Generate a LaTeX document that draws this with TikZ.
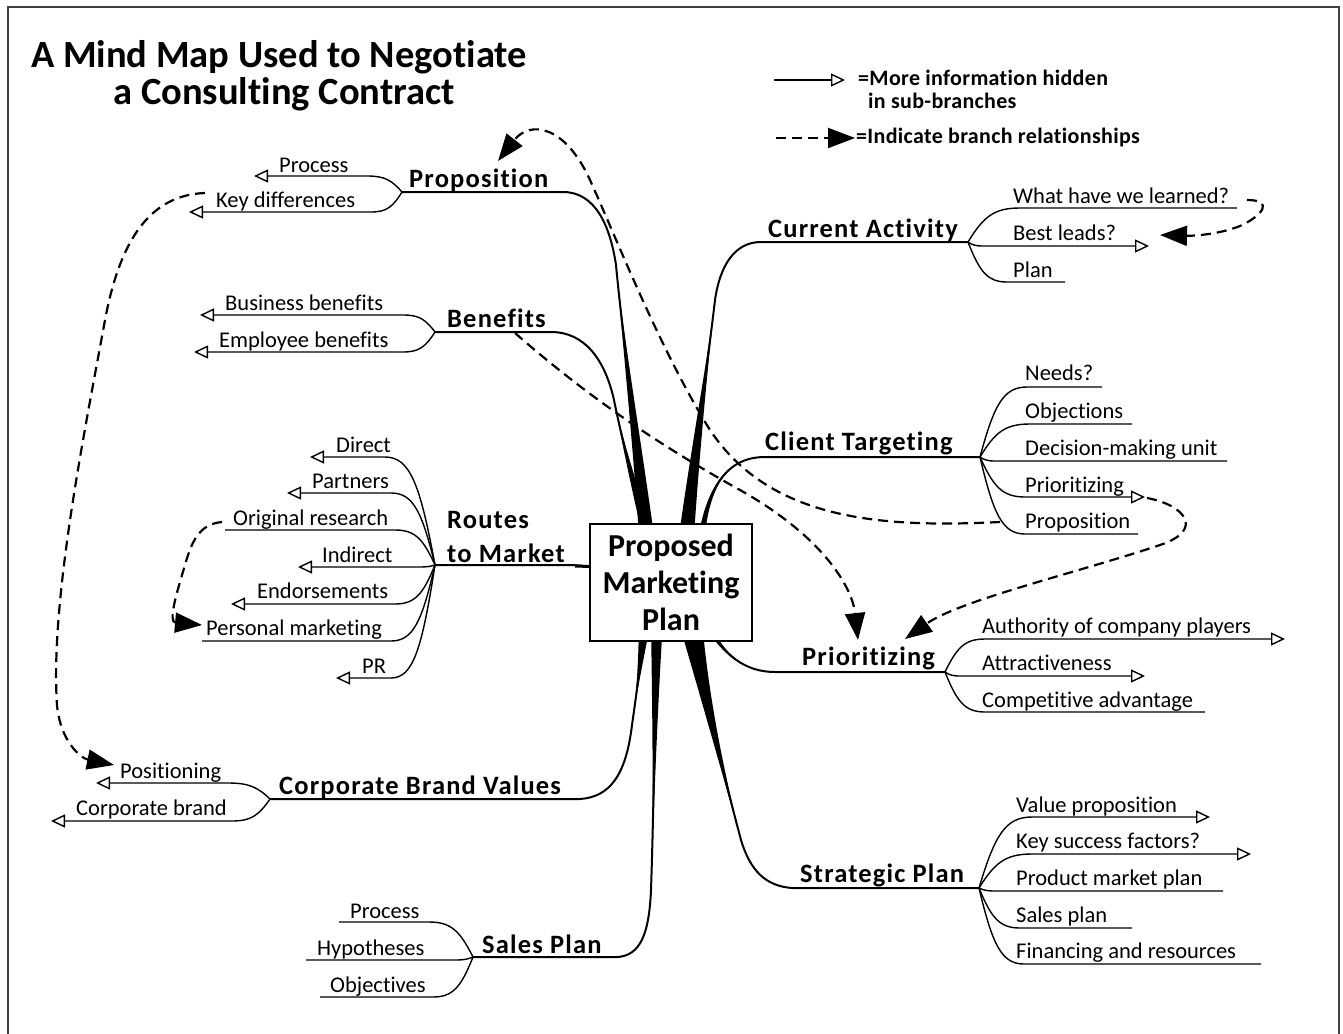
\documentclass[tikz,border=0pt]{standalone}
\usepackage{fontspec}
\setmainfont{Carlito}[Ligatures=NoCommon]
\newfontfamily\labfont{Carlito}[Ligatures=NoCommon,LetterSpace=4.5]
\newfontfamily\legfont{Carlito}[Ligatures=NoCommon,LetterSpace=1.5]
\usetikzlibrary{arrows.meta,calc}

% child branch: #1 id, #2 junction, #3 text, #4 text x, #5 baseline y, #6 underline y, #7 near x, #8 far x, #9 extra style
\newcommand\kid[9]{%
  \node[kid] (#1) at (#4,#5) {#3};
  \coordinate (#1n) at (#7,#6);
  \coordinate (#1f) at (#8,#6);
  \draw[kidline,#9] let \p1=(#2), \p2=(#1n) in
    (\p1) .. controls ({\x1+0.3*(\x2-\x1)},{\y1+0.75*(\y2-\y1)}) and ({\x2-0.5*(\x2-\x1)},{\y2}) .. (\p2) -- (#1f);
}
% tapered wedge: P0, C1, C2, P3, offsets at C1, C2, P3
\newcommand\taper[7]{%
  \fill (#1) .. controls ($(#2)+(-#5,0)$) and ($(#3)+(-#6,0)$) .. ($(#4)+(-#7,0)$)
    -- ($(#4)+(#7,0)$) .. controls ($(#3)+(#6,0)$) and ($(#2)+(#5,0)$) .. (#1) -- cycle;
}

\begin{document}
\begin{tikzpicture}[x=1pt,y=-1pt,
  kid/.style={font=\fontsize{22.5}{26}\selectfont, anchor=base west, inner sep=0pt},
  lab/.style={font=\labfont\fontsize{26.5}{30}\selectfont\bfseries, anchor=base west, inner sep=0pt},
  titlefont/.style={font=\fontsize{38.5}{44}\selectfont\bfseries, anchor=base, inner sep=0pt},
  legend/.style={font=\legfont\fontsize{22}{26}\selectfont\bfseries, anchor=base west, inner sep=0pt},
  kidline/.style={line width=1.4pt},
  mainline/.style={line width=2pt},
  hid/.style={-{Triangle[open,length=14pt,width=13pt]}},
  rel/.style={line width=2.2pt, dash pattern=on 10pt off 6pt, -{Triangle[length=27pt,width=20pt]}}
]
\useasboundingbox (0,0) rectangle (1343,1033);
\draw[line width=2pt, black!75] (7.5,1045) -- (7.5,7.5) -- (1339,7.5) -- (1339,1045);

% title
\node[titlefont] (t1) at (279,67) {A Mind Map Used to Negotiate};
\node[titlefont] (t2) at (284,104) {a Consulting Contract};

% legend
\coordinate (lgA) at (774,80); \coordinate (lgB) at (845,80);
\draw[kidline,hid] (lgA) -- (lgB);
\node[legend] (lgT1) at (858,85) {=More information hidden};
\node[legend] (lgT2) at (868,108) {in sub-branches};
\coordinate (lgC) at (776,138); \coordinate (lgD) at (855,138);
\draw[rel] (lgC) -- (lgD);
\node[legend] (lgT3) at (856,143) {=Indicate branch relationships};

% ---- main branches ----
% Proposition
\coordinate (jProp) at (402,192);
\node[lab] (lProp) at (409,187) {Proposition};
\draw[mainline] (jProp) -- (563,192) .. controls (595,192) and (610,225) .. (616,265) .. controls (622,330) and (638,450) .. (648,550);
\taper{616,265}{622,330}{638,450}{648,550}{0.5}{4.5}{8}
% Benefits
\coordinate (jBen) at (435,332);
\node[lab] (lBen) at (447,327) {Benefits};
\draw[mainline] (jBen) -- (551,332) .. controls (585,332) and (605,360) .. (614,400) .. controls (622,440) and (635,490) .. (652,550);
\taper{614,400}{622,440}{635,490}{652,550}{0.5}{3.5}{6}
% Current Activity
\coordinate (jCur) at (968,242);
\node[lab] (lCur) at (768,237) {Current Activity};
\draw[mainline] (jCur) -- (761,242) .. controls (735,242) and (720,265) .. (715,300) .. controls (708,360) and (695,450) .. (685,550);
\taper{715,300}{708,360}{695,450}{685,550}{0.5}{4.5}{8}
% Client Targeting
\coordinate (jCli) at (980,457);
\node[lab] (lCli) at (765,450) {Client Targeting};
\draw[mainline] (jCli) -- (765,457) .. controls (722,457) and (705,495) .. (700,550);
\taper{765,457}{722,457}{705,495}{700,550}{0}{2}{3.5}
% Routes to Market
\coordinate (jRou) at (435,565);
\node[lab] (lRou1) at (447,528) {Routes};
\node[lab] (lRou2) at (447,562) {to Market};
\draw[mainline] (jRou) -- (569,565) .. controls (580,565) and (585,567) .. (605,567);
\draw[line width=3pt] (575,566) -- (605,567);
% Prioritizing
\coordinate (jPri) at (945,672);
\node[lab] (lPri) at (802,665) {Prioritizing};
\draw[mainline] (jPri) -- (775,672) .. controls (745,672) and (722,655) .. (705,620);
\taper{775,672}{745,672}{722,655}{705,620}{0}{2}{3}
% Strategic Plan
\coordinate (jStr) at (979,888);
\node[lab] (lStr) at (800,882) {Strategic Plan};
\draw[mainline] (jStr) -- (792,888) .. controls (765,886) and (750,870) .. (741,840) .. controls (725,780) and (705,700) .. (690,620);
\taper{741,840}{725,780}{705,700}{690,620}{1}{3.5}{12}
% Sales Plan
\coordinate (jSal) at (473,957);
\node[lab] (lSal) at (482,953) {Sales Plan};
\draw[mainline] (jSal) -- (618,957) .. controls (640,955) and (649,935) .. (651,890) .. controls (654,800) and (655,700) .. (657,620);
\taper{651,890}{654,800}{655,700}{657,620}{0}{3}{6}
% Corporate Brand Values
\coordinate (jCor) at (270,799);
\node[lab] (lCor) at (279,794) {Corporate Brand Values};
\draw[mainline] (jCor) -- (580,799) .. controls (610,797) and (626,775) .. (632,725) .. controls (637,690) and (641,660) .. (645,620);
\taper{632,725}{637,690}{641,660}{645,620}{0}{2.5}{6}

% ---- children ----
\kid{kProc}{jProp}{Process}{279}{172}{176}{367}{254}{hid}
\kid{kKey}{jProp}{Key differences}{216}{207}{212}{371}{189}{hid}

\kid{kBus}{jBen}{Business benefits}{225}{310}{315}{403}{200}{hid}
\kid{kEmp}{jBen}{Employee benefits}{219}{347}{352}{403}{194}{hid}

\kid{kDir}{jRou}{Direct}{336}{452}{457}{385}{310}{hid}
\kid{kPar}{jRou}{Partners}{312}{488}{493}{391}{287}{hid}
\kid{kOri}{jRou}{Original research}{233}{525}{530}{395}{225}{}
\kid{kInd}{jRou}{Indirect}{322}{562}{567}{419}{298}{hid}
\kid{kEnd}{jRou}{Endorsements}{257}{598}{604}{395}{231}{hid}
\kid{kPer}{jRou}{Personal marketing}{206}{635}{641}{391}{202}{}
\kid{kPR}{jRou}{PR}{362}{673}{678}{391}{336}{hid}

\kid{kPos}{jCor}{Positioning}{120}{778}{783}{228}{96}{hid}
\kid{kCbr}{jCor}{Corporate brand}{76}{815}{821}{232}{51}{hid}

\kid{kSPr}{jSal}{Process}{350}{918}{922}{429}{339}{}
\kid{kHyp}{jSal}{Hypotheses}{317}{955}{960}{455}{306}{}
\kid{kObj}{jSal}{Objectives}{330}{992}{997}{433}{320}{}

\kid{kWha}{jCur}{What have we learned?}{1013}{203}{208}{1020}{1237}{}
\kid{kBes}{jCur}{Best leads?}{1013}{240}{246}{983}{1149}{hid}
\kid{kPla}{jCur}{Plan}{1013}{277}{282}{1007}{1065}{}

\kid{kNee}{jCli}{Needs?}{1025}{380}{387}{1027}{1102}{}
\kid{kObn}{jCli}{Objections}{1025}{418}{424}{1030}{1132}{}
\kid{kDec}{jCli}{Decision-making unit}{1025}{455}{461}{995}{1227}{}
\kid{kCPr}{jCli}{Prioritizing}{1025}{492}{497}{1025}{1145}{hid}
\kid{kCPo}{jCli}{Proposition}{1025}{528}{534}{1025}{1138}{}

\kid{kAut}{jPri}{Authority of company players}{982}{633}{639}{985}{1285}{hid}
\kid{kAtt}{jPri}{Attractiveness}{982}{670}{676}{960}{1145}{hid}
\kid{kCom}{jPri}{Competitive advantage}{982}{707}{712}{985}{1205}{}

\kid{kVal}{jStr}{Value proposition}{1016}{812}{817}{1032}{1210}{hid}
\kid{kKsf}{jStr}{Key success factors?}{1016}{848}{854}{1032}{1251}{hid}
\kid{kPmp}{jStr}{Product market plan}{1016}{885}{891}{995}{1223}{}
\kid{kSpl}{jStr}{Sales plan}{1016}{922}{928}{1020}{1132}{}
\kid{kFin}{jStr}{Financing and resources}{1016}{958}{964}{1024}{1261}{}

% ---- relationships (dashed) ----
\coordinate (r1a) at (205,193); \coordinate (r1b) at (114,765);
\draw[rel] (r1a) .. controls (150,195) and (120,240) .. (105,320) .. controls (85,430) and (50,600) .. (57,705) .. controls (60,740) and (80,758) .. (r1b);
\coordinate (r2a) at (222,522); \coordinate (r2b) at (202,625);
\draw[rel] (r2a) .. controls (200,524) and (192,540) .. (185,565) .. controls (176,595) and (168,622) .. (r2b);
\coordinate (r3a) at (1000,522); \coordinate (r3b) at (498,161);
\draw[rel] (r3a) .. controls (880,528) and (770,520) .. (710,430) .. controls (660,350) and (615,235) .. (590,180) .. controls (565,125) and (530,120) .. (r3b);
\coordinate (r4a) at (515,333); \coordinate (r4b) at (858,640);
\draw[rel] (r4a) .. controls (580,390) and (650,440) .. (740,490) .. controls (820,535) and (852,585) .. (r4b);
\coordinate (r5a) at (1147,498); \coordinate (r5b) at (905,639);
\draw[rel] (r5a) .. controls (1185,505) and (1205,530) .. (1160,545) .. controls (1080,572) and (960,600) .. (r5b);
\coordinate (r6a) at (1247,200); \coordinate (r6b) at (1160,235);
\draw[rel] (r6a) .. controls (1275,200) and (1262,216) .. (1240,226) .. controls (1220,234) and (1195,236) .. (r6b);

% ---- centre ----
\node[draw, line width=2pt, fill=white, minimum width=162pt, minimum height=117pt, inner sep=0pt,
      align=center, font=\fontsize{32}{37}\selectfont\bfseries] (box) at (671,582.5) {Proposed\\Marketing\\Plan};
\end{tikzpicture}
\end{document}
